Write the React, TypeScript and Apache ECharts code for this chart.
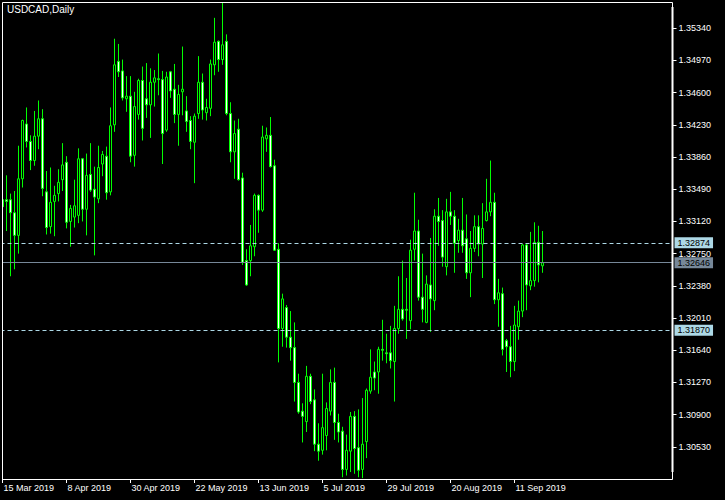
import React, { useEffect, useRef } from "react";
import * as echarts from "echarts";

// Daily OHLC, first bar = 15 Mar 2019, one bar per weekday
const opens = [
  1.3337, 1.3337, 1.3337, 1.3322, 1.3296, 1.3361, 1.3424, 1.3404, 1.3382, 1.341,
  1.343, 1.3346, 1.3306, 1.3335, 1.3344, 1.336, 1.338, 1.3312, 1.3317, 1.3319,
  1.3384, 1.3326, 1.3366, 1.3349, 1.3338, 1.3378, 1.3387, 1.3346, 1.3423, 1.3496,
  1.3485, 1.3453, 1.3456, 1.3388, 1.3435, 1.3474, 1.3453, 1.3446, 1.3472, 1.3476,
  1.3475, 1.3417, 1.3484, 1.3464, 1.3435, 1.3461, 1.3439, 1.3428, 1.3403, 1.3436,
  1.3472, 1.3437, 1.3442, 1.3492, 1.3519, 1.3498, 1.3519, 1.3436, 1.3392, 1.3418,
  1.3362, 1.3267, 1.3267, 1.3283, 1.3342, 1.3325, 1.3407, 1.3411, 1.3376, 1.328,
  1.3189, 1.3213, 1.3179, 1.3167, 1.3127, 1.3094, 1.3082, 1.3134, 1.3107, 1.3056,
  1.3049, 1.3066, 1.3094, 1.3127, 1.3081, 1.3071, 1.3027, 1.3048, 1.3088, 1.3052,
  1.3027, 1.3059, 1.3117, 1.3139, 1.3139, 1.3165, 1.3161, 1.3161, 1.3151, 1.3189,
  1.3211, 1.3211, 1.3198, 1.328, 1.3301, 1.3225, 1.3196, 1.3239, 1.3221, 1.3318,
  1.3313, 1.326, 1.3323, 1.3318, 1.329, 1.3302, 1.3292, 1.3253, 1.3281, 1.3306,
  1.3286, 1.3313, 1.3323, 1.3334, 1.3222, 1.3229, 1.3175, 1.3168, 1.3151, 1.3191,
  1.3209, 1.3285, 1.3238, 1.3244, 1.3288, 1.3261,
];
const closes = [
  1.3329, 1.3335, 1.3322, 1.3296, 1.3361, 1.3428, 1.3404, 1.3382, 1.341, 1.343,
  1.335, 1.3305, 1.3334, 1.3342, 1.3357, 1.3377, 1.3311, 1.3327, 1.333, 1.3384,
  1.3326, 1.3365, 1.3348, 1.334, 1.3374, 1.3389, 1.3345, 1.3422, 1.3492, 1.3484,
  1.3454, 1.3456, 1.3387, 1.3444, 1.3474, 1.3419, 1.3446, 1.3472, 1.3477, 1.3475,
  1.3413, 1.3478, 1.3462, 1.3435, 1.3458, 1.3464, 1.3427, 1.3404, 1.3433, 1.3472,
  1.344, 1.3443, 1.3493, 1.3518, 1.3498, 1.3515, 1.3436, 1.3392, 1.3413, 1.336,
  1.3265, 1.3239, 1.3284, 1.3342, 1.3325, 1.3409, 1.3411, 1.3375, 1.3279, 1.3189,
  1.3223, 1.3179, 1.3167, 1.3127, 1.3093, 1.3088, 1.3134, 1.3105, 1.3056, 1.3048,
  1.3075, 1.3097, 1.3127, 1.3081, 1.307, 1.3027, 1.3049, 1.3088, 1.3051, 1.3026,
  1.3056, 1.3118, 1.3133, 1.3132, 1.3165, 1.3164, 1.316, 1.3152, 1.3189, 1.3211,
  1.32, 1.321, 1.3279, 1.3301, 1.3225, 1.3211, 1.324, 1.3223, 1.3318, 1.3312,
  1.3271, 1.3323, 1.3318, 1.3287, 1.3302, 1.3284, 1.3253, 1.3281, 1.3306, 1.3286,
  1.3304, 1.3323, 1.3334, 1.3222, 1.323, 1.3165, 1.3168, 1.3151, 1.3193, 1.3209,
  1.3285, 1.3239, 1.3244, 1.3288, 1.3262, 1.32646,
];
const lows = [
  1.3323, 1.3301, 1.3249, 1.3257, 1.3275, 1.3351, 1.3397, 1.3371, 1.3376, 1.3395,
  1.3341, 1.3297, 1.3298, 1.3295, 1.3335, 1.3347, 1.3304, 1.3283, 1.3305, 1.331,
  1.3312, 1.3296, 1.3346, 1.3273, 1.3333, 1.3364, 1.3337, 1.3342, 1.3415, 1.3478,
  1.3451, 1.3438, 1.338, 1.3375, 1.3429, 1.3405, 1.3431, 1.3408, 1.3444, 1.3457,
  1.3378, 1.3415, 1.3454, 1.3425, 1.3399, 1.3434, 1.3415, 1.3395, 1.3356, 1.343,
  1.3429, 1.3428, 1.3433, 1.348, 1.3484, 1.3492, 1.3434, 1.338, 1.3361, 1.3359,
  1.3262, 1.3238, 1.3249, 1.3272, 1.3299, 1.3323, 1.3392, 1.3374, 1.3278, 1.315,
  1.3168, 1.3167, 1.3152, 1.3105, 1.3091, 1.3058, 1.307, 1.3102, 1.3048, 1.3037,
  1.3044, 1.3049, 1.3089, 1.3061, 1.3058, 1.3018, 1.302, 1.3024, 1.3022, 1.3018,
  1.3017, 1.304, 1.3114, 1.3118, 1.3114, 1.3152, 1.3149, 1.3143, 1.3105, 1.3183,
  1.3198, 1.3177, 1.3188, 1.3267, 1.3221, 1.3196, 1.3195, 1.3185, 1.321, 1.3284,
  1.326, 1.325, 1.3308, 1.3253, 1.3276, 1.3276, 1.3246, 1.3225, 1.3277, 1.3272,
  1.3247, 1.3312, 1.3318, 1.3217, 1.3191, 1.3158, 1.3139, 1.3133, 1.314, 1.3176,
  1.3202, 1.321, 1.3233, 1.3237, 1.3242, 1.3253,
];
const highs = [
  1.3343, 1.3365, 1.3344, 1.3347, 1.3399, 1.3429, 1.3443, 1.3411, 1.3439, 1.3451,
  1.3441, 1.337, 1.3374, 1.3353, 1.3372, 1.3402, 1.3387, 1.3331, 1.336, 1.3396,
  1.3385, 1.339, 1.3402, 1.3375, 1.3399, 1.3393, 1.3398, 1.3443, 1.3522, 1.3516,
  1.3498, 1.3479, 1.3479, 1.3461, 1.3476, 1.349, 1.3494, 1.3488, 1.3486, 1.3505,
  1.3485, 1.3484, 1.3485, 1.3493, 1.3469, 1.3513, 1.3456, 1.3433, 1.3436, 1.3502,
  1.3482, 1.3453, 1.3498, 1.3546, 1.352, 1.3563, 1.3527, 1.3449, 1.3428, 1.343,
  1.3368, 1.328, 1.3308, 1.3344, 1.3343, 1.3422, 1.342, 1.3432, 1.3383, 1.3287,
  1.3229, 1.3216, 1.3209, 1.3196, 1.3137, 1.3103, 1.3146, 1.3137, 1.3119, 1.308,
  1.3137, 1.3104, 1.3142, 1.3144, 1.3091, 1.3076, 1.3067, 1.3093, 1.3094, 1.3096,
  1.3109, 1.312, 1.3165, 1.3151, 1.3168, 1.3199, 1.3183, 1.3192, 1.3215, 1.3249,
  1.3267, 1.3247, 1.3291, 1.3345, 1.3314, 1.3275, 1.325, 1.3293, 1.3326, 1.3339,
  1.3325, 1.3338, 1.3346, 1.3325, 1.3315, 1.3339, 1.332, 1.3301, 1.3319, 1.3319,
  1.3333, 1.3361, 1.3382, 1.3345, 1.3246, 1.3236, 1.3177, 1.3192, 1.3215, 1.3221,
  1.3286, 1.3286, 1.33, 1.3311, 1.3307, 1.3301,
];

// Horizontal price lines
const levelUpper = 1.32874;
const levelBid = 1.32646;
const levelLower = 1.3187;

const START = Date.UTC(2019, 2, 15);
const MONTHS = ["Jan", "Feb", "Mar", "Apr", "May", "Jun", "Jul", "Aug", "Sep", "Oct", "Nov", "Dec"];
const SLOTS = 168; // includes empty right-hand shift area
const LABEL_STEP = 16;

function weekdayLabels(n: number): string[] {
  const out: string[] = [];
  const d = new Date(START);
  while (out.length < n) {
    const wd = d.getUTCDay();
    if (wd !== 0 && wd !== 6) {
      out.push(`${d.getUTCDate()} ${MONTHS[d.getUTCMonth()]} ${d.getUTCFullYear()}`);
    }
    d.setUTCDate(d.getUTCDate() + 1);
  }
  return out;
}

const categories = weekdayLabels(SLOTS);

export default function App() {
  const ref = useRef<HTMLDivElement>(null);
  useEffect(() => {
    if (!ref.current) return;
    const chart = echarts.init(ref.current, null, { renderer: "svg" });
    const data = opens.map((o, i) => [o, closes[i], lows[i], highs[i]]);
    const nData = opens.length;
    const font = "Liberation Sans, Arial, sans-serif";
    const showIdx = (i: number) => i % LABEL_STEP === 0 && i < nData;
    const lvlLabel = (bg: string) => ({
      show: true,
      position: "end" as const,
      distance: 2,
      formatter: (p: any) => Number(p.value).toFixed(5),
      color: "#000",
      backgroundColor: bg,
      fontSize: 9,
      fontFamily: font,
      lineHeight: 10,
      padding: [1, 3, 0, 3],
    });
    chart.setOption({
      animation: false,
      backgroundColor: "#000",
      grid: { left: 0.5, right: 52.5, top: 2, bottom: 21 },
      xAxis: {
        type: "category",
        data: categories,
        boundaryGap: true,
        axisLine: { show: false },
        splitLine: { show: false },
        axisTick: {
          show: true,
          alignWithLabel: true,
          interval: (i: number) => showIdx(i),
          length: 4,
          lineStyle: { color: "#fff" },
        },
        axisLabel: {
          interval: (i: number) => showIdx(i),
          color: "#fff",
          fontSize: 9,
          fontFamily: font,
          align: "left",
          margin: 4,
          padding: [0, 0, 0, 1],
        },
      },
      yAxis: {
        type: "value",
        position: "right",
        min: 1.3016,
        max: 1.35642,
        interval: 0.0037,
        axisLine: { show: false },
        splitLine: { show: false },
        axisTick: { show: true, length: 4, lineStyle: { color: "#fff" } },
        axisLabel: {
          color: "#fff",
          fontSize: 9,
          fontFamily: font,
          margin: 6,
          showMinLabel: false,
          showMaxLabel: false,
          formatter: (v: number) => v.toFixed(5),
        },
      },
      series: [
        {
          type: "candlestick",
          data,
          barWidth: 3,
          itemStyle: {
            color: "#000000",
            color0: "#ffffff",
            borderColor: "#00ff00",
            borderColor0: "#00ff00",
            borderWidth: 1,
          },
          markLine: {
            silent: true,
            precision: 5,
            symbol: ["none", "none"],
            data: [
              { yAxis: levelUpper, lineStyle: { color: "#add8e6", type: [4, 3], width: 1 }, label: lvlLabel("#add8e6") },
              { yAxis: levelBid, lineStyle: { color: "#778899", type: "solid", width: 1 }, label: lvlLabel("#778899") },
              { yAxis: levelLower, lineStyle: { color: "#add8e6", type: [4, 3], width: 1 }, label: lvlLabel("#add8e6") },
            ],
          },
        },
      ],
      graphic: [
        { type: "rect", z: 100, shape: { x: 0, y: 0, width: 2, height: 480 }, style: { fill: "#000" } },
        { type: "rect", z: 101, shape: { x: 2.5, y: 2.5, width: 670, height: 477 }, style: { fill: "none", stroke: "#fff", lineWidth: 1 } },
        { type: "line", z: 101, shape: { x1: 672.5, y1: 7, x2: 672.5, y2: 472 }, style: { stroke: "#fff", lineWidth: 2 } },
        { type: "text", z: 102, x: 7, y: 4, style: { text: "USDCAD,Daily", fill: "#fff", font: `10px ${font}` } },
      ],
    });
    return () => chart.dispose();
  }, []);
  return (
    <div
      ref={ref}
      style={{ position: "fixed", left: 0, top: 0, width: 725, height: 500, background: "#000" }}
    />
  );
}
